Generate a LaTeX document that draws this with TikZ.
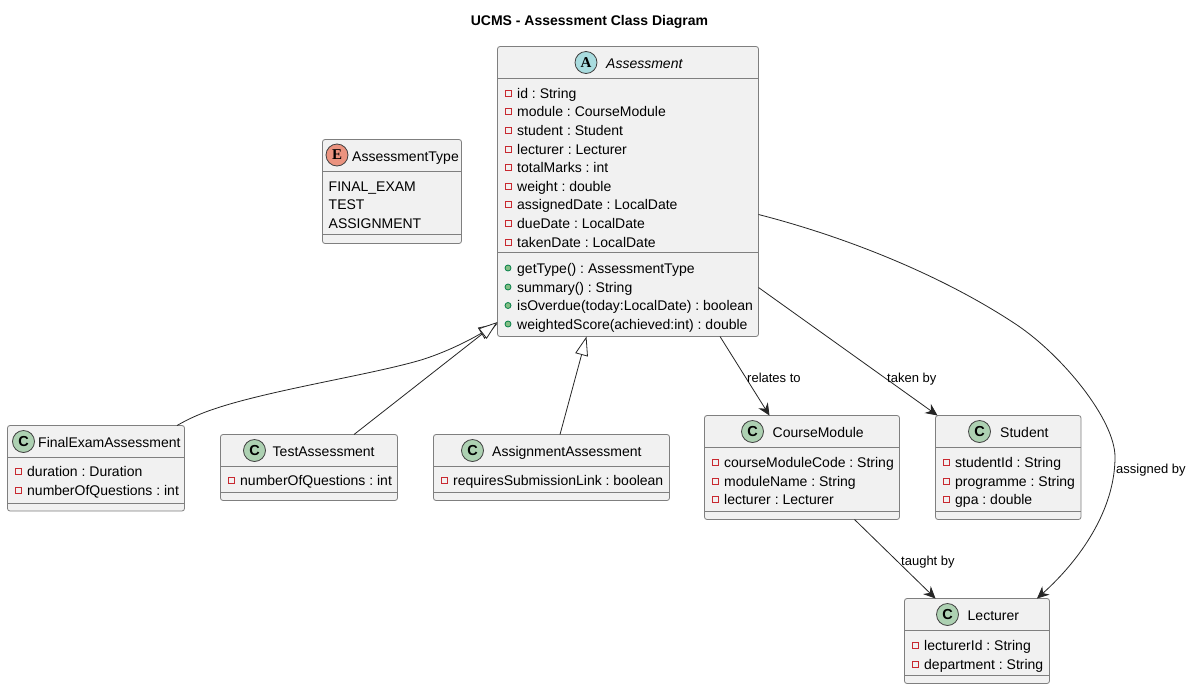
\documentclass[tikz,border=0pt]{standalone}
\usepackage{fontspec}
\setmainfont{Liberation Sans}
\newfontfamily\badgeserif{Liberation Serif}
\usetikzlibrary{arrows.meta,calc}
\definecolor{boxfill}{HTML}{F1F1F1}
\definecolor{boxline}{HTML}{7F7F7F}
\definecolor{privred}{HTML}{C82930}
\definecolor{pubgreen}{HTML}{84BE84}
\definecolor{publine}{HTML}{038048}
\definecolor{clsgreen}{HTML}{ADD1B2}
\definecolor{absblue}{HTML}{A9DCDF}
\definecolor{enumred}{HTML}{EB937F}
\newcounter{rowno}
\tikzset{x=1pt,y=-1pt,
  classbox/.style={draw=boxline,fill=boxfill,line width=0.8pt,rounded corners=2.5pt,anchor=north west,inner sep=0pt,outer sep=0pt},
  divider/.style={draw=boxline,line width=0.8pt},
  rowtext/.style={anchor=base west,inner sep=0pt,font=\fontsize{14}{16}\selectfont,text=black},
  headtext/.style={anchor=base,inner sep=0pt,font=\fontsize{14}{16}\selectfont,text=black},
  edgetext/.style={anchor=base west,inner sep=0pt,font=\fontsize{13}{15}\selectfont,text=black},
  badge/.style={circle,draw=black!75,line width=0.8pt,minimum size=22pt,inner sep=0pt,font=\fontsize{14.5}{15}\selectfont\bfseries},
  badgeS/.style={badge,font=\fontsize{15}{15}\badgeserif\bfseries},
  assoc/.style={draw=black!85,line width=0.8pt,-{Stealth[length=12pt,width=11pt,inset=4pt]}},
  inherit/.style={draw=black!85,line width=0.8pt,-{Triangle[open,length=19pt,width=13pt,fill=white]}},
}
\newcommand{\umlbox}[6]{% name, x1,y1,x2,y2 -- dividers in #6
  \pgfmathsetmacro{\bw}{#4-#2}\pgfmathsetmacro{\bh}{#5-#3}
  \node[classbox,minimum width=\bw pt,minimum height=\bh pt] (#1) at (#2,#3) {};
  \foreach \dy in {#6} {\draw[divider] (#2,\dy) -- (#4,\dy);}
}
\newcommand{\prv}[3]{% x,y centre,text
  \stepcounter{rowno}
  \draw[privred,line width=0.8pt,fill=none] ($(#1,#2)+(0,-3)$) rectangle ($(#1,#2)+(6,3)$);
  \node[rowtext] (r\arabic{rowno}) at ($(#1,#2)+(12,5)$) {#3};
}
\newcommand{\pub}[3]{%
  \stepcounter{rowno}
  \fill[pubgreen,draw=publine,line width=0.8pt] ($(#1,#2)+(3,0)$) circle (3pt);
  \node[rowtext] (r\arabic{rowno}) at ($(#1,#2)+(12,5)$) {#3};
}
\newcommand{\plain}[3]{%
  \stepcounter{rowno}
  \node[rowtext] (r\arabic{rowno}) at (#1,#2) {#3};
}
\begin{document}
\frenchspacing
\begin{tikzpicture}
\useasboundingbox (0,0) rectangle (1192,689);
\fill[white] (0,0) rectangle (1192,689);
\node[inner sep=0pt,anchor=base,font=\fontsize{14}{16}\selectfont\bfseries] (title) at (589.5,25) {UCMS - Assessment Class Diagram};

% Assessment
\umlbox{as}{497.5}{46.5}{758.5}{336.5}{78,252}
\node[badgeS,fill=absblue] (asb) at (586,62.5) {A};
\node[headtext,anchor=base west,font=\fontsize{14}{16}\selectfont\itshape] (ast) at (606,68) {Assessment};
\prv{505}{93}{id : String}
\prv{505}{111.5}{module : CourseModule}
\prv{505}{130}{student : Student}
\prv{505}{149}{lecturer : Lecturer}
\prv{505}{167}{totalMarks : int}
\prv{505}{186}{weight : double}
\prv{505}{204.5}{assignedDate : LocalDate}
\prv{505}{223}{dueDate : LocalDate}
\prv{505}{242}{takenDate : LocalDate}
\pub{505}{268}{getType() : AssessmentType}
\pub{505}{287}{summary() : String}
\pub{505}{305.5}{isOverdue(today:LocalDate) : boolean}
\pub{505}{324}{weightedScore(achieved:int) : double}

% AssessmentType
\umlbox{at}{322.5}{139.5}{461.5}{243.5}{171,234}
\node[badgeS,fill=enumred] (atb) at (337,155) {E};
\node[headtext,anchor=base west] (att) at (352,161) {AssessmentType};
\plain{328.5}{191.5}{FINAL\_EXAM}
\plain{328.5}{209.5}{TEST}
\plain{328.5}{228.5}{ASSIGNMENT}

% FinalExamAssessment
\umlbox{fe}{7.5}{425.5}{184.5}{511}{457.5,503}
\node[badge,fill=clsgreen] (feb) at (23.5,441.5) {C};
\node[headtext,anchor=base west] (fet) at (38,447) {FinalExamAssessment};
\prv{15}{471}{duration : Duration}
\prv{15}{490}{numberOfQuestions : int}

% TestAssessment
\umlbox{ta}{220.5}{434.5}{397.5}{500.5}{466.5,492}
\node[badge,fill=clsgreen] (tab) at (254.5,450.5) {C};
\node[headtext,anchor=base west] (tat) at (272.5,456) {TestAssessment};
\prv{228}{480}{numberOfQuestions : int}

% AssignmentAssessment
\umlbox{aa}{433.5}{434.5}{669.5}{500.5}{466.5,492}
\node[badge,fill=clsgreen] (aab) at (472.5,450.5) {C};
\node[headtext,anchor=base west] (aat) at (492,456) {AssignmentAssessment};
\prv{441}{480}{requiresSubmissionLink : boolean}

% CourseModule
\umlbox{cm}{704.5}{415.5}{899.5}{519.5}{447.5,511}
\node[badge,fill=clsgreen] (cmb) at (752.5,431.5) {C};
\node[headtext,anchor=base west] (cmt) at (772.5,437) {CourseModule};
\prv{712}{462}{courseModuleCode : String}
\prv{712}{481}{moduleName : String}
\prv{712}{499.5}{lecturer : Lecturer}

% Student
\umlbox{st}{935.5}{415.5}{1081}{519.5}{447.5,511}
\node[badge,fill=clsgreen] (stb) at (979.5,431.5) {C};
\node[headtext,anchor=base west] (stt) at (1000,437) {Student};
\prv{943}{462}{studentId : String}
\prv{943}{481}{programme : String}
\prv{943}{499.5}{gpa : double}

% Lecturer
\umlbox{le}{904.5}{598.5}{1049.5}{683.5}{630.5,675}
\node[badge,fill=clsgreen] (leb) at (947.5,614.5) {C};
\node[headtext,anchor=base west] (let) at (967.5,620) {Lecturer};
\prv{912}{645.5}{lecturerId : String}
\prv{912}{664}{department : String}

% Connectors
\coordinate (feout) at ($(fe.north east)+(-7.5,0)$);
\coordinate (taout) at ($(ta.north west)+(133.5,0)$);
\coordinate (aaout) at ($(aa.north west)+(126.5,0)$);
\coordinate (asA) at ($(as.south west)+(0,-13)$);
\coordinate (asB) at ($(as.south west)+(0,-14.5)$);
\coordinate (asC) at ($(as.south west)+(89,0)$);
\coordinate (asD) at ($(as.south west)+(222.5,0)$);
\coordinate (asE) at ($(as.south east)+(0,-49)$);
\coordinate (asF) at ($(as.north east)+(0,168)$);
\draw[inherit] (feout) .. controls (190,418) and (202,413) .. (214,409) .. controls (270,390) and (370,375) .. (421,360) .. controls (450,351) and (475,337) .. (asA);
\draw[inherit] (taout) -- (asB);
\draw[inherit] (aaout) -- (asC);
\draw[assoc] (asD) -- ($(cm.north west)+(65,0)$);
\draw[assoc] (asE) -- ($(st.north west)+(2,0)$);
\draw[assoc] (asF) .. controls (850,238) and (945,277) .. (1017,325) .. controls (1063,356) and (1115,420) .. (1115,457) .. controls (1115,510) and (1080,560) .. ($(le.north east)+(-12.5,0)$);
\draw[assoc] ($(cm.south west)+(150,0)$) -- ($(le.north west)+(31,0)$);
\node[edgetext] (l1) at (747,382.5) {relates to};
\node[edgetext] (l2) at (887,382.5) {taken by};
\node[edgetext] (l3) at (1116,473.5) {assigned by};
\node[edgetext] (l4) at (901,565.5) {taught by};
\end{tikzpicture}
\end{document}
